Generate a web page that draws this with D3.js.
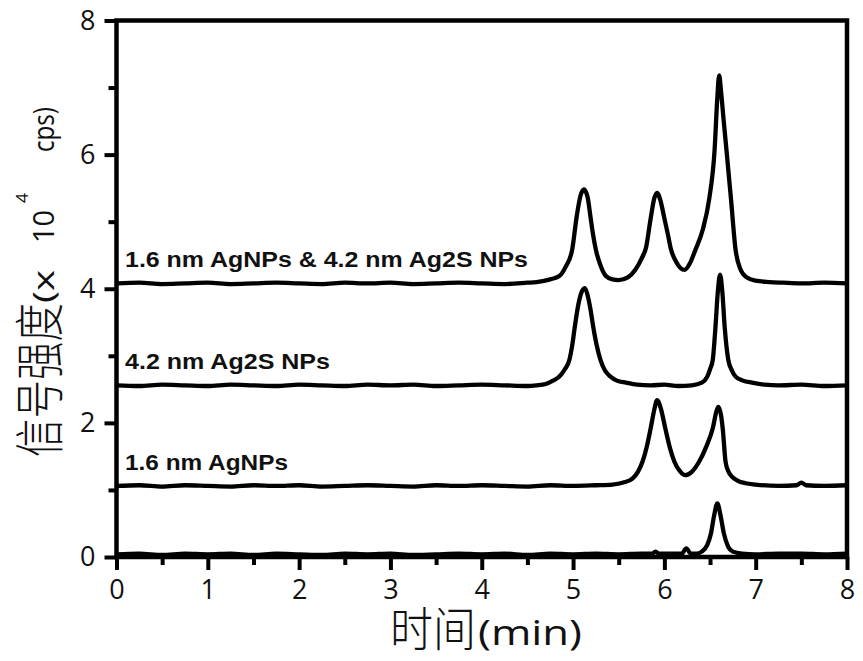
<!DOCTYPE html>
<html>
<head>
<meta charset="utf-8">
<script src="https://cdn.jsdelivr.net/npm/d3@7/dist/d3.min.js"></script>
<style>
  body { margin: 0; background: #fff; }
</style>
</head>
<body>
<svg id="chart"></svg>
<script>
// ticks
const xMajorTicks = [0, 1, 2, 3, 4, 5, 6, 7, 8]
const xMinorTicks = [0.5, 1.5, 2.5, 3.5, 4.5, 5.5, 6.5, 7.5]
const yMajorTicks = [0, 2, 4, 6, 8]
const yMinorTicks = [1, 3, 5, 7]

// series labels, bottom to top (bottom trace has no label)
const traceLabels = ["", "1.6 nm AgNPs", "4.2 nm Ag2S NPs", "1.6 nm AgNPs & 4.2 nm Ag2S NPs"]

// [time (min), signal (x 10^4 cps)]
const traceBlank = [
  [0, 0.04], [0.25, 0.05], [0.5, 0.03], [0.75, 0.05], [1, 0.04], [1.25, 0.05], [1.5, 0.03],
  [1.75, 0.05], [2, 0.04], [2.25, 0.03], [2.5, 0.05], [2.75, 0.04], [3, 0.05], [3.25, 0.03],
  [3.5, 0.04], [3.75, 0.05], [4, 0.04], [4.25, 0.05], [4.5, 0.03], [4.75, 0.05], [5, 0.04],
  [5.25, 0.05], [5.5, 0.04], [5.75, 0.05], [5.87, 0.05], [5.9, 0.08], [5.94, 0.05], [6.1, 0.05],
  [6.19, 0.05], [6.24, 0.13], [6.29, 0.05], [6.35, 0.05], [6.41, 0.08], [6.47, 0.18], [6.51, 0.35],
  [6.545, 0.62], [6.58, 0.8], [6.615, 0.62], [6.65, 0.36], [6.7, 0.15], [6.75, 0.08],
  [6.85, 0.05], [7, 0.04], [7.25, 0.05], [7.5, 0.05], [7.75, 0.04], [8, 0.05]
]

const traceAg = [
  [0, 1.06], [0.25, 1.07], [0.5, 1.05], [0.75, 1.07], [1, 1.06], [1.25, 1.05], [1.5, 1.07],
  [1.75, 1.06], [2, 1.07], [2.25, 1.05], [2.5, 1.06], [2.75, 1.07], [3, 1.06], [3.25, 1.05],
  [3.5, 1.07], [3.75, 1.06], [4, 1.07], [4.25, 1.06], [4.5, 1.05], [4.75, 1.07], [5, 1.06],
  [5.25, 1.07], [5.43, 1.08], [5.55, 1.11], [5.65, 1.17], [5.71, 1.27], [5.76, 1.42],
  [5.81, 1.66], [5.85, 1.92], [5.89, 2.2], [5.92, 2.34], [5.96, 2.22], [6.01, 1.92],
  [6.06, 1.63], [6.11, 1.42], [6.17, 1.28], [6.23, 1.22], [6.3, 1.27], [6.38, 1.42],
  [6.46, 1.65], [6.53, 1.92], [6.57, 2.17], [6.59, 2.24], [6.62, 2.12], [6.64, 1.9],
  [6.67, 1.42], [6.7, 1.28], [6.74, 1.2], [6.8, 1.14], [6.89, 1.1], [7, 1.08], [7.25, 1.06],
  [7.45, 1.07], [7.5, 1.11], [7.55, 1.07], [7.75, 1.06], [8, 1.07]
]

const traceAg2S = [
  [0, 2.56], [0.25, 2.55], [0.5, 2.57], [0.75, 2.56], [1, 2.55], [1.25, 2.57], [1.5, 2.56],
  [1.75, 2.55], [2, 2.57], [2.25, 2.56], [2.5, 2.55], [2.75, 2.57], [3, 2.56], [3.25, 2.57],
  [3.5, 2.55], [3.75, 2.56], [4, 2.57], [4.25, 2.56], [4.5, 2.55], [4.6, 2.56], [4.7, 2.58],
  [4.78, 2.63], [4.85, 2.69], [4.91, 2.8], [4.96, 2.94], [4.99, 3.15], [5.02, 3.44],
  [5.06, 3.78], [5.1, 3.97], [5.13, 4.01], [5.16, 3.9], [5.19, 3.7], [5.22, 3.44],
  [5.26, 3.15], [5.3, 2.94], [5.35, 2.78], [5.41, 2.69], [5.48, 2.63], [5.58, 2.6],
  [5.7, 2.57], [5.85, 2.56], [6, 2.57], [6.15, 2.55], [6.3, 2.56], [6.41, 2.6], [6.47, 2.69],
  [6.5, 2.8], [6.53, 2.94], [6.56, 3.44], [6.585, 3.95], [6.61, 4.21], [6.635, 3.95],
  [6.66, 3.44], [6.7, 2.94], [6.74, 2.78], [6.78, 2.69], [6.86, 2.63], [6.96, 2.6],
  [7.1, 2.57], [7.25, 2.56], [7.5, 2.57], [7.75, 2.55], [8, 2.56]
]

const traceMix = [
  [0, 4.08], [0.25, 4.09], [0.5, 4.07], [0.75, 4.08], [1, 4.09], [1.25, 4.07], [1.5, 4.08],
  [1.75, 4.09], [2, 4.08], [2.25, 4.07], [2.5, 4.09], [2.75, 4.08], [3, 4.09], [3.25, 4.07],
  [3.5, 4.08], [3.75, 4.09], [4, 4.08], [4.25, 4.07], [4.5, 4.09], [4.6, 4.1], [4.75, 4.14],
  [4.85, 4.19], [4.92, 4.33], [4.99, 4.58], [5.04, 5.08], [5.08, 5.38], [5.12, 5.48],
  [5.16, 5.36], [5.19, 5.08], [5.22, 4.8], [5.25, 4.58], [5.3, 4.35], [5.36, 4.19],
  [5.43, 4.14], [5.5, 4.13], [5.6, 4.17], [5.68, 4.28], [5.75, 4.45], [5.8, 4.62],
  [5.85, 5.05], [5.89, 5.35], [5.92, 5.43], [5.96, 5.3], [6, 5.05], [6.04, 4.8], [6.07, 4.6],
  [6.13, 4.4], [6.22, 4.28], [6.28, 4.38], [6.34, 4.58], [6.42, 4.88], [6.49, 5.33],
  [6.55, 6.07], [6.58, 6.85], [6.6, 7.18], [6.62, 6.95], [6.65, 6.5], [6.68, 6.07],
  [6.73, 5.33], [6.78, 4.58], [6.83, 4.3], [6.9, 4.17], [7, 4.12], [7.15, 4.1], [7.3, 4.09],
  [7.5, 4.08], [7.75, 4.09], [8, 4.08]
]

const traces = [traceBlank, traceAg, traceAg2S, traceMix]

const width = 863
const height = 661

const svg = d3.select("#chart")
  .attr("width", width)
  .attr("height", height)
  .style("background", "#fff")

const x = d3.scaleLinear().domain([0, 8]).range([116.5, 847])
const y = d3.scaleLinear().domain([0, 8]).range([557, 20.5])

const tickFont = "'Open Sans', 'DejaVu Sans', sans-serif"

// minor ticks first so the major ones sit on top
svg.append("g")
  .attr("transform", `translate(0,${y(0)})`)
  .call(d3.axisBottom(x).tickValues(xMinorTicks).tickSize(8).tickFormat(""))
svg.append("g")
  .attr("transform", `translate(${x(0)},0)`)
  .call(d3.axisLeft(y).tickValues(yMinorTicks).tickSize(8).tickFormat(""))

svg.append("g")
  .attr("transform", `translate(0,${y(0)})`)
  .call(d3.axisBottom(x).tickValues(xMajorTicks).tickSize(13).tickPadding(10).tickFormat(d3.format("d")))

svg.append("g")
  .attr("transform", `translate(${x(0)},0)`)
  .call(d3.axisLeft(y).tickValues(yMajorTicks).tickSize(12).tickPadding(9).tickFormat(d3.format("d")))

svg.selectAll(".tick line")
  .attr("stroke", "#000")
  .attr("stroke-width", 4)
svg.selectAll(".domain").remove()

svg.selectAll(".tick text")
  .attr("font-family", tickFont)
  .attr("font-size", 27)
  .attr("fill", "#111")

// frame
svg.append("rect")
  .attr("x", x(0))
  .attr("y", y(8))
  .attr("width", x(8) - x(0))
  .attr("height", y(0) - y(8))
  .attr("fill", "none")
  .attr("stroke", "#000")
  .attr("stroke-width", 4.5)

// traces
const line = d3.line()
  .x(d => x(d[0]))
  .y(d => y(d[1]))
  .curve(d3.curveMonotoneX)

svg.append("g")
  .selectAll("path")
  .data(traces)
  .join("path")
  .attr("d", line)
  .attr("fill", "none")
  .attr("stroke", "#000")
  .attr("stroke-width", 4.3)
  .attr("stroke-linejoin", "round")

// series labels
const labelWidths = [0, 163, 205, 403]
svg.append("g")
  .selectAll("text")
  .data(traceLabels.map((t, i) => ({ text: t, base: traces[i][0][1], w: labelWidths[i] })).filter(d => d.text))
  .join("text")
  .text(d => d.text)
  .attr("x", 125)
  .attr("y", d => y(d.base) - 16)
  .attr("textLength", d => d.w)
  .attr("lengthAdjust", "spacingAndGlyphs")
  .attr("font-family", "'Liberation Sans', Arial, sans-serif")
  .attr("font-weight", "bold")
  .attr("font-size", 22)
  .attr("fill", "#111")

// x axis title
svg.append("text")
  .text("时间")
  .attr("x", 390)
  .attr("y", 646)
  .attr("textLength", 86)
  .attr("lengthAdjust", "spacingAndGlyphs")
  .attr("font-family", "'Noto Sans CJK SC', sans-serif")
  .attr("font-weight", 300)
  .attr("font-size", 47)
  .attr("fill", "#111")

svg.append("text")
  .text("(min)")
  .attr("x", 478)
  .attr("y", 645)
  .attr("textLength", 104)
  .attr("lengthAdjust", "spacingAndGlyphs")
  .attr("font-family", tickFont)
  .attr("font-size", 34)
  .attr("fill", "#111")

// y axis title, rotated; along-axis positions are screen y values
const yTitle = svg.append("g")
  .attr("transform", "rotate(-90)")

yTitle.append("text")
  .text("信号强度")
  .attr("x", -457)
  .attr("y", 58)
  .attr("textLength", 154)
  .attr("lengthAdjust", "spacingAndGlyphs")
  .attr("font-family", "'Noto Sans CJK SC', sans-serif")
  .attr("font-weight", 300)
  .attr("font-size", 50)
  .attr("fill", "#111")

const yTitleParts = [
  { text: "(x", start: 303, end: 270, size: 29, base: 54 },
  { text: "10", start: 243, end: 210, size: 29, base: 54 },
  { text: "4", start: 203, end: 193, size: 17, base: 28 },
  { text: "cps)", start: 152, end: 107, size: 29, base: 54 }
]

yTitle.selectAll("text.part")
  .data(yTitleParts)
  .join("text")
  .attr("class", "part")
  .text(d => d.text)
  .attr("x", d => -d.start)
  .attr("y", d => d.base)
  .attr("textLength", d => d.start - d.end)
  .attr("lengthAdjust", "spacingAndGlyphs")
  .attr("font-family", tickFont)
  .attr("font-size", d => d.size)
  .attr("fill", "#111")
</script>
</body>
</html>
